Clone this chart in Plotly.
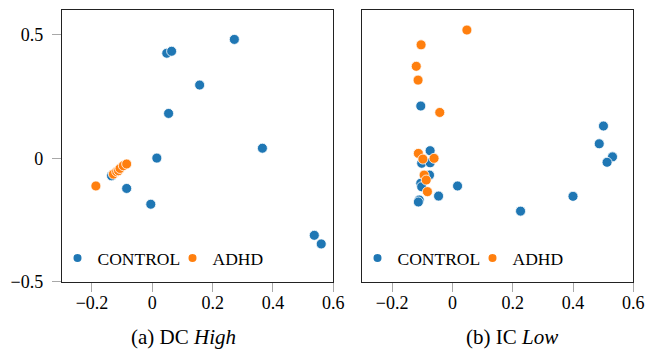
import plotly.graph_objects as go

# ---------------- data ----------------
DC_CONTROL_X = [0.272, 0.048, 0.064, 0.157, 0.054, 0.365, 0.015, -0.085, -0.005, 0.537, 0.560, -0.135]
DC_CONTROL_Y = [0.482, 0.426, 0.434, 0.297, 0.182, 0.041, 0.001, -0.122, -0.186, -0.312, -0.347, -0.071]
DC_ADHD_X = [-0.187, -0.129, -0.118, -0.112, -0.107, -0.096, -0.085]
DC_ADHD_Y = [-0.112, -0.064, -0.054, -0.050, -0.041, -0.030, -0.023]

IC_CONTROL_X = [-0.105, 0.501, 0.487, 0.531, 0.513, 0.400, 0.226, 0.017, -0.046, -0.110, -0.113,
                -0.074, -0.102, -0.074, -0.076, -0.105, -0.102]
IC_CONTROL_Y = [0.212, 0.131, 0.059, 0.006, -0.016, -0.154, -0.214, -0.112, -0.153, -0.169, -0.177,
                0.031, -0.020, -0.018, -0.068, -0.101, -0.115]
IC_ADHD_X = [0.048, -0.104, -0.120, -0.114, -0.042, -0.113, -0.098, -0.061, -0.094, -0.087, -0.083]
IC_ADHD_Y = [0.520, 0.460, 0.373, 0.317, 0.186, 0.020, -0.003, 0.000, -0.068, -0.088, -0.135]

GROUPS = ["CONTROL", "ADHD"]
X_TICKS = [-0.2, 0, 0.2, 0.4, 0.6]
X_TICK_TEXT = ["\u22120.2", "0", "0.2", "0.4", "0.6"]
Y_TICKS = [-0.5, 0, 0.5]
Y_TICK_TEXT = ["\u22120.5", "0", "0.5"]
CAPTIONS = ["(a) DC <i>High</i>", "(b) IC <i>Low</i>"]

# ---------------- style ----------------
BLUE = "#1f77b4"
ORANGE = "#ff7f0e"
FONT = "Liberation Serif"
W, H = 645, 353

def px_x(p):
    return p / W

def px_y(p):
    return (H - p) / H

fig = go.Figure()

panels = [
    ("x", "y", DC_CONTROL_X, DC_CONTROL_Y, DC_ADHD_X, DC_ADHD_Y, "legend"),
    ("x2", "y2", IC_CONTROL_X, IC_CONTROL_Y, IC_ADHD_X, IC_ADHD_Y, "legend2"),
]
for xa, ya, cx, cy, ax, ay, lg in panels:
    fig.add_trace(go.Scatter(x=cx, y=cy, mode="markers", xaxis=xa, yaxis=ya, showlegend=False,
                             marker=dict(color=BLUE, size=10, line=dict(color="white", width=0.8))))
    fig.add_trace(go.Scatter(x=ax, y=ay, mode="markers", xaxis=xa, yaxis=ya, showlegend=False,
                             marker=dict(color=ORANGE, size=10, line=dict(color="white", width=0.8))))
    # legend entries
    for name, col in zip(GROUPS, [BLUE, ORANGE]):
        fig.add_trace(go.Scatter(x=[None], y=[None], mode="markers", xaxis=xa, yaxis=ya,
                                 name=name, legend=lg,
                                 marker=dict(color=col, size=8)))

x_common = dict(range=[-0.3, 0.6], tickvals=X_TICKS, ticktext=X_TICK_TEXT, ticks="outside",
                ticklen=9, tickcolor="#a8a8a8", tickwidth=1, showline=True, mirror=True,
                linecolor="#222222", linewidth=1, showgrid=False, zeroline=False,
                automargin=False, ticklabelstandoff=-4,
                tickfont=dict(family=FONT, size=18, color="black"))
y_common = dict(range=[-0.5, 0.6], tickvals=Y_TICKS, showline=True, mirror=True,
                linecolor="#222222", linewidth=1, showgrid=False, zeroline=False,
                automargin=False, tickfont=dict(family=FONT, size=18, color="black"))

legend_common = dict(orientation="h", yanchor="middle", xanchor="left",
                     bgcolor="rgba(0,0,0,0)", font=dict(family=FONT, size=17.5, color="black"),
                     entrywidth=70, entrywidthmode="pixels", itemclick=False)

yd = [px_y(281.7), px_y(10.3)]
fig.update_layout(
    width=W, height=H,
    margin=dict(l=0, r=0, t=0, b=0),
    paper_bgcolor="white", plot_bgcolor="white",
    font=dict(family=FONT, color="black"),
    xaxis=dict(domain=[px_x(61.8), px_x(333.3)], anchor="y", **x_common),
    xaxis2=dict(domain=[px_x(362), px_x(633.3)], anchor="y2", **x_common),
    yaxis=dict(domain=yd, anchor="x", ticktext=Y_TICK_TEXT, ticks="outside", ticklen=9,
               tickcolor="#a8a8a8", tickwidth=1, ticklabelstandoff=5, **y_common),
    yaxis2=dict(domain=yd, anchor="x2", showticklabels=False, ticks="", **y_common),
    legend=dict(x=px_x(57.5), y=px_y(258), **legend_common),
    legend2=dict(x=px_x(357.5), y=px_y(258), **legend_common),
    showlegend=True,
)

for cap, cx in zip(CAPTIONS, [183, 511.7]):
    fig.add_annotation(text=cap, xref="paper", yref="paper", x=px_x(cx), y=px_y(337),
                       xanchor="center", yanchor="middle", showarrow=False,
                       font=dict(family=FONT, size=21, color="black"))

fig.write_html("out.html", config={"displayModeBar": False},
               post_script="document.body.style.margin='0';")
